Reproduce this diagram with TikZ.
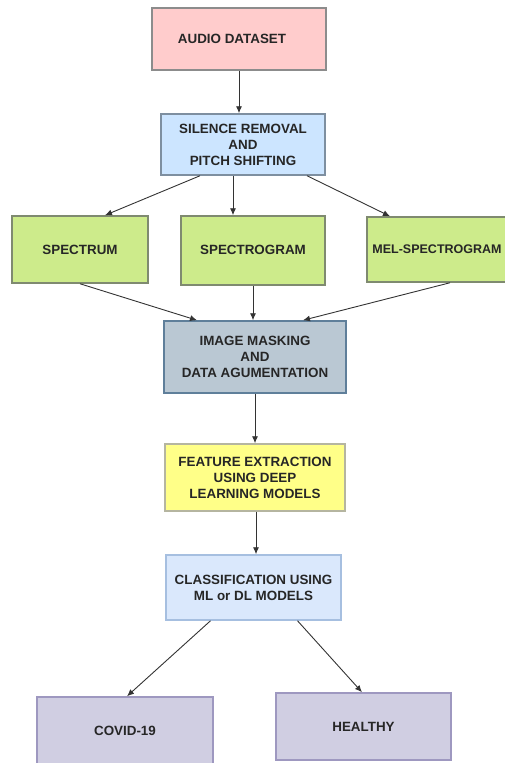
\documentclass[tikz,border=0pt]{standalone}
\usepackage{fontspec}
\setmainfont{Liberation Sans}
\usetikzlibrary{arrows.meta}
\definecolor{audiof}{HTML}{FFCCCC}
\definecolor{audiod}{HTML}{8C8C8C}
\definecolor{silf}{HTML}{CCE5FF}
\definecolor{sild}{HTML}{7E8FA0}
\definecolor{grnf}{HTML}{CDEB8B}
\definecolor{grnd}{HTML}{7F8A70}
\definecolor{imgf}{HTML}{BAC8D3}
\definecolor{imgd}{HTML}{5F7F9A}
\definecolor{featf}{HTML}{FFFF88}
\definecolor{featd}{HTML}{B5B5A0}
\definecolor{clsf}{HTML}{DAE8FC}
\definecolor{clsd}{HTML}{A6BFE0}
\definecolor{outf}{HTML}{D0CEE2}
\definecolor{outd}{HTML}{9E98C0}
\definecolor{arr}{HTML}{333333}
\tikzset{
  box/.style={draw, line width=1.5pt, minimum width=#1, inner sep=0pt, align=center,
    font=\fontsize{13.4}{16}\selectfont\bfseries, text=black!85},
  conn/.style={draw=arr, line width=0.9pt, -{Latex[length=7pt,width=6pt]}}
}
\begin{document}
\begin{tikzpicture}[x=1pt,y=-1pt]
\useasboundingbox (0,0) rectangle (505,763);
\clip (0,0) rectangle (505,763);
\node[box=174pt, minimum height=62pt, fill=audiof, draw=audiod] (audio) at (239,39) {\hspace*{-14pt}AUDIO DATASET};
\node[box=164pt, minimum height=61pt, fill=silf, draw=sild] (sil) at (243,144.5) {SILENCE REMOVAL\\AND\\PITCH SHIFTING};
\node[box=136pt, minimum height=67pt, fill=grnf, draw=grnd] (spec) at (80,249.5) {\raisebox{-4pt}{SPECTRUM}};
\node[box=144pt, minimum height=69pt, fill=grnf, draw=grnd] (sgram) at (253,250.5) {\raisebox{2pt}{SPECTROGRAM}};
\node[box=146pt, minimum height=65pt, fill=grnf, draw=grnd] (mel) at (440,249.5) {\hspace*{-6pt}{\fontsize{12.5}{16}\selectfont MEL-SPECTROGRAM}};
\node[box=182pt, minimum height=72pt, fill=imgf, draw=imgd] (img) at (255,357) {IMAGE MASKING\\AND\\DATA AGUMENTATION};
\node[box=180pt, minimum height=67pt, fill=featf, draw=featd] (feat) at (255,477.5) {FEATURE EXTRACTION\\USING DEEP\\LEARNING MODELS};
\node[box=175pt, minimum height=65pt, fill=clsf, draw=clsd] (cls) at (253.5,587.5) {CLASSIFICATION USING\\ML or DL MODELS};
\node[box=176pt, minimum height=68pt, fill=outf, draw=outd] (covid) at (125,731) {COVID-19};
\node[box=175pt, minimum height=67pt, fill=outf, draw=outd] (healthy) at (363.5,726.5) {HEALTHY};
\draw[conn] (audio.south) -- (audio.south |- sil.north);
\draw[conn] ([xshift=-43pt]sil.south) -- ([xshift=25pt]spec.north);
\draw[conn] ([xshift=-10pt]sil.south) -- ([xshift=-20pt]sgram.north);
\draw[conn] ([xshift=64pt]sil.south) -- ([xshift=-50pt]mel.north);
\draw[conn] (spec.south) -- ([xshift=-58pt]img.north);
\draw[conn] (sgram.south) -- ([xshift=-2pt]img.north);
\draw[conn] ([xshift=10pt]mel.south) -- ([xshift=48pt]img.north);
\draw[conn] (img.south) -- (feat.north);
\draw[conn] ([xshift=1pt]feat.south) -- ([xshift=2.5pt]cls.north);
\draw[conn] ([xshift=-43pt]cls.south) -- ([xshift=2pt]covid.north);
\draw[conn] ([xshift=44pt]cls.south) -- ([xshift=-1.5pt]healthy.north);
\end{tikzpicture}
\end{document}
